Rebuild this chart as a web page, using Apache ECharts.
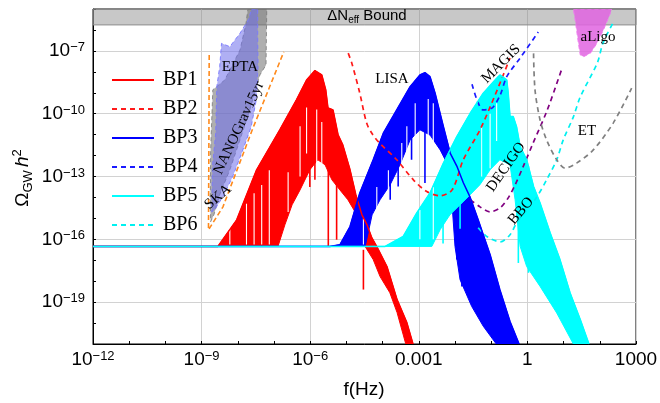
<!DOCTYPE html>
<html><head><meta charset="utf-8">
<script src="https://cdn.jsdelivr.net/npm/echarts@6/dist/echarts.min.js"></script>
<style>html,body{margin:0;padding:0;background:#fff}#c{width:660px;height:403px}</style>
</head><body><div id="c"></div>
<script>
// All values are given as [log10(f / Hz), log10(Omega_GW h^2)]
const xTickValues = [-12, -9, -6, -3, 0, 3];
const xTickTexts = ['10^−12', '10^−9', '10^−6', '0.001', '1', '1000'];
const yTickValues = [-19, -16, -13, -10, -7];
const yTickTexts = ['10^−19', '10^−16', '10^−13', '10^−10', '10^−7'];
const legendNames = ['BP1', 'BP2', 'BP3', 'BP4', 'BP5', 'BP6'];

// Spectra: upper envelope and lower envelope of the densely oscillating curves
const bp1Upper = [[-12,-16.34],[-8.55,-16.34],[-8.03,-15.07],[-7.48,-12.68],[-6.84,-10.77],[-6.38,-9.34],[-6.10,-8.39],[-5.87,-7.94],[-5.68,-8.15],[-5.57,-8.87],[-5.51,-9.72],[-5.37,-9.82],[-5.23,-11.01],[-5.10,-11.49],[-4.90,-12.68],[-4.74,-13.87],[-4.57,-14.83],[-4.43,-15.31],[-4.30,-15.92],[-4.16,-16.35],[-3.88,-17.30],[-3.60,-18.88],[-3.33,-19.98],[-3.16,-21]];
const bp1Lower = [[-12,-16.34],[-6.89,-16.34],[-6.70,-15.31],[-6.50,-14.35],[-6.28,-13.64],[-6.01,-12.68],[-5.79,-12.20],[-5.59,-12.44],[-5.40,-13.16],[-5.18,-13.64],[-4.96,-14.11],[-4.76,-14.69],[-4.57,-15.31],[-4.48,-16.35],[-4.26,-16.97],[-4.07,-17.78],[-3.80,-18.55],[-3.60,-19.50],[-3.36,-21]];
// deep dips (same colour) and white gaps inside the filled oscillation: [logf, top, bottom]
const bp1Dips = [[-6.93,-14.5,-16.34],[-6.01,-12.5,-13.5],[-5.87,-12.3,-13.16],[-5.50,-12.5,-16.34],[-5.27,-13.0,-16.02],[-4.53,-16.5,-18.4]];
const bp1Gaps = [[-8.22,-15.3,-16.25],[-7.76,-14.3,-16.25],[-7.55,-13.8,-16.25],[-7.34,-13.4,-16.25],[-7.13,-12.7,-16.25],[-6.61,-12.8,-14.7],[-6.28,-10.6,-13.0],[-6.10,-9.7,-11.9],[-5.82,-9.8,-13.3],[-5.68,-10.4,-13.4]];

const bp3Upper = [[-12,-16.34],[-5.46,-16.34],[-5.18,-16.26],[-4.90,-15.39],[-4.63,-13.79],[-4.26,-12.20],[-3.98,-10.93],[-3.61,-9.82],[-3.24,-8.71],[-2.97,-8.15],[-2.83,-8.04],[-2.69,-8.23],[-2.55,-9.02],[-2.32,-10.62],[-2.13,-11.9],[-1.95,-12.5],[-1.77,-13.3],[-1.58,-14.0],[-1.36,-15.07],[-1.03,-16.74],[-0.76,-18.41],[-0.48,-19.93],[-0.23,-21]];
const bp3Lower = [[-12,-16.34],[-4.48,-16.34],[-4.29,-14.83],[-4.07,-14.11],[-3.79,-13.39],[-3.52,-12.44],[-3.24,-11.25],[-2.97,-10.77],[-2.69,-11.02],[-2.41,-11.73],[-2.13,-12.68],[-2.09,-14.11],[-2.00,-16.34],[-1.86,-17.93],[-1.54,-19.20],[-1.22,-20.15],[-0.86,-21]];
const bp3Dips = [[-3.79,-11,-14.11],[-3.57,-10,-13.48],[-3.20,-9,-12.20],[-2.83,-8.5,-13.31],[-1.95,-13,-16.97],[-1.81,-14,-18.25],[-1.31,-16,-19.20]];
const bp3Gaps = [[-4.53,-15.0,-16.25],[-4.16,-13.5,-14.9],[-3.84,-12.7,-14.2],[-3.47,-11.4,-13.1],[-3.33,-10.6,-13.4],[-3.10,-9.5,-12.2],[-2.74,-9.3,-11.2],[-2.60,-9.5,-11.4]];

const bp5Upper = [[-12,-16.34],[-3.93,-16.34],[-3.43,-15.86],[-3.06,-14.75],[-2.69,-13.79],[-2.32,-12.36],[-1.95,-11.09],[-1.58,-9.98],[-1.22,-9.02],[-0.85,-8.31],[-0.76,-8.15],[-0.57,-8.39],[-0.53,-9.02],[-0.48,-10.14],[-0.39,-10.14],[-0.30,-10.62],[-0.20,-11.57],[-0.02,-12.20],[0.17,-13.48],[0.35,-14.27],[0.63,-15.70],[0.90,-16.97],[1.18,-18.56],[1.46,-19.83],[1.70,-21]];
const bp5Lower = [[-12,-16.34],[-2.64,-16.34],[-2.41,-15.54],[-2.14,-14.83],[-1.86,-14.35],[-1.58,-13.87],[-1.31,-13.39],[-1.03,-12.68],[-0.76,-12.20],[-0.48,-12.44],[-0.34,-14.11],[-0.20,-16.34],[-0.02,-17.30],[0.35,-18.25],[0.81,-19.52],[1.27,-21]];
const bp5Dips = [[-2.33,-13,-16.2],[-1.86,-11.5,-15.5],[-1.22,-9.5,-13.0],[-0.53,-10,-12.36],[-0.25,-12,-17.13],[0.03,-12.5,-17.6]];
const bp5Gaps = [[-2.97,-14.6,-16.0],[-2.60,-13.5,-16.0],[-1.26,-10.6,-13.0],[-1.03,-10.0,-12.6],[-0.85,-9.5,-11.3]];

// Detector sensitivity curves
const lisaCurve = [[-4.95,-7.11],[-4.85,-7.59],[-4.63,-9.02],[-4.44,-10.45],[-4.27,-11.01],[-4.08,-11.41],[-3.61,-12.20],[-3.15,-13.16],[-2.78,-13.72],[-2.42,-13.92],[-2.08,-13.64],[-1.77,-12.20],[-1.31,-10.77],[-0.89,-9.10],[-0.48,-7.34]];
const magisCurve = [[-1.53,-8.59],[-1.39,-9.35],[-1.22,-9.82],[-0.97,-9.72],[-0.75,-9.10],[-0.57,-8.23],[-0.20,-7.34],[0.30,-6.10]];
const bboCurve = [[-1.36,-15.45],[-1.11,-15.88],[-0.75,-16.12],[-0.48,-15.78],[-0.28,-15.16],[-0.01,-14.59],[0.27,-13.95],[0.53,-13.16],[0.81,-12.20],[0.99,-11.25],[1.27,-10.15],[1.46,-9.20],[1.93,-7.58],[2.09,-6.62],[2.38,-5.62]];
const decigoCurve = [[-1.58,-14.11],[-1.31,-14.45],[-1.03,-14.69],[-0.75,-14.49],[-0.53,-14.02],[-0.34,-13.40],[-0.12,-12.54],[0.16,-11.39],[0.55,-9.82],[0.96,-7.81]];
const etCurve = [[0.17,-7.12],[0.21,-8.86],[0.35,-10.30],[0.53,-11.25],[0.81,-12.20],[1.04,-12.60],[1.36,-12.36],[1.82,-11.73],[2.37,-10.45],[2.88,-8.78]];
const skaCurve = [[-8.79,-7.2],[-8.80,-12.0],[-8.81,-15.55],[-8.76,-15.5],[-8.41,-14.45],[-7.58,-10.68],[-6.73,-7.05]];

// PTA / aLIGO regions
const eptaRegion = [[-7.72,-5.0],[-7.20,-5.0],[-7.22,-7.67],[-7.39,-8.15],[-7.67,-9.82],[-7.94,-11.25],[-8.22,-12.68],[-8.50,-13.87],[-8.66,-14.83],[-8.75,-15.16],[-8.76,-14.11],[-8.75,-11.73],[-8.69,-8.86],[-8.36,-8.39],[-7.94,-6.96],[-7.78,-5.76]];
const nanogravRegion = [[-7.62,-5.0],[-7.45,-5.0],[-7.45,-6.48],[-7.44,-7.75],[-7.49,-9.34],[-7.63,-10.62],[-7.86,-11.73],[-8.14,-13.0],[-8.41,-13.96],[-8.64,-14.59],[-8.72,-14.69],[-8.70,-12.52],[-8.61,-10.92],[-8.58,-8.71],[-8.50,-7.75],[-8.45,-6.64],[-8.22,-6.80],[-7.94,-6.16],[-7.71,-5.52]];
const aligoRegion = [[1.27,-5],[2.33,-5],[2.29,-5.21],[2.10,-6.0],[1.92,-6.64],[1.74,-7.11],[1.55,-7.28],[1.46,-7.19],[1.41,-6.64],[1.32,-5.52]];
const neffBound = [-5.76, -5];

const SANS = 'Liberation Sans, Arial, sans-serif';
const SERIF = 'Liberation Serif, Times New Roman, serif';

function powLabel(t) {
  const parts = t.split('^');
  return parts.length > 1 ? '{b|' + parts[0] + '}{s|' + parts[1] + '}' : '{b|' + t + '}';
}
function tickFormatter(values, texts) {
  return function (v) {
    const r = Math.round(v);
    if (Math.abs(v - r) > 1e-6) return '';
    const i = values.indexOf(r);
    return i < 0 ? '' : powLabel(texts[i]);
  };
}
const tickRich = {
  b: { fontSize: 19, fontFamily: SANS, color: '#000', lineHeight: 20 },
  s: { fontSize: 13, fontFamily: SANS, color: '#000', lineHeight: 15, verticalAlign: 'top' }
};

function polygonSeries(name, pts, fill, stroke, dash, lw) {
  return {
    type: 'custom', name: name, silent: true, animation: false,
    data: pts, encode: { x: 0, y: 1 },
    renderItem: function (params, api) {
      if (params.dataIndex !== 0) return null;
      const cs = params.coordSys;
      const points = pts.map(function (p) { return api.coord(p); });
      return {
        type: 'group',
        clipPath: { type: 'rect', shape: { x: cs.x, y: cs.y, width: cs.width, height: cs.height } },
        children: [{ type: 'polygon', shape: { points: points },
          style: { fill: fill, stroke: stroke, lineWidth: lw || 1, lineDash: dash || null } }]
      };
    }
  };
}
function segmentSeries(name, segs, color, width) {
  return {
    type: 'custom', name: name, silent: true, animation: false,
    data: segs, encode: { x: 0, y: [1, 2] },
    renderItem: function (params, api) {
      const a = api.coord([api.value(0), api.value(1)]);
      const b = api.coord([api.value(0), api.value(2)]);
      return { type: 'line', shape: { x1: a[0], y1: a[1], x2: b[0], y2: b[1] },
        style: { stroke: color, lineWidth: width } };
    }
  };
}
function lineSeries(name, pts, color, dash, width, smooth) {
  return {
    type: 'line', name: name, data: pts, symbol: 'none', showSymbol: false,
    animation: false, silent: true, smooth: smooth || false, clip: true,
    lineStyle: { color: color, width: width, type: dash || 'solid' },
    itemStyle: { color: color }
  };
}
function band(upper, lower) { return upper.concat(lower.slice().reverse()); }

const series = [
  Object.assign(polygonSeries('EPTA', eptaRegion, 'rgba(110,110,110,0.55)', 'rgba(120,120,120,0.8)', [4, 3], 1), {
    markArea: { silent: true, itemStyle: { color: 'rgba(140,140,140,0.48)', borderColor: '#8c8c8c', borderWidth: 1 },
      data: [[{ yAxis: neffBound[0] }, { yAxis: neffBound[1] }]] }
  }),
  polygonSeries('NANOGrav15yr', nanogravRegion, 'rgba(110,110,235,0.55)', 'rgba(120,120,255,0.9)', [4, 3], 1),
  lineSeries('SKA', skaCurve, '#ff8a1c', [5, 3], 1.6),
  polygonSeries('aLigo', aligoRegion, 'rgba(225,100,225,0.85)', 'rgba(240,120,240,1)', [4, 3], 1),
  lineSeries('BP2', lisaCurve, '#ff1a1a', [5, 4], 1.7, 0.3),
  lineSeries('BP4', magisCurve, '#1a1aff', [5, 4], 1.7, 0.3),
  lineSeries('DECIGO', decigoCurve, '#800080', [5, 4], 1.7, 0.3),
  lineSeries('BP6', bboCurve, '#00f0f0', [5, 4], 1.7, 0.3),
  lineSeries('ET', etCurve, '#808080', [5, 4], 1.7, 0.3),
  polygonSeries('BP1 band', band(bp1Upper, bp1Lower), '#ff0000', '#ff0000', null, 1),
  segmentSeries('BP1 gaps', bp1Gaps, '#ffffff', 1.1),
  segmentSeries('BP1 dips', bp1Dips, '#ff0000', 1.6),
  lineSeries('BP1', bp1Upper, '#ff0000', 'solid', 1.5),
  polygonSeries('BP3 band', band(bp3Upper, bp3Lower), '#0000ff', '#0000ff', null, 1),
  segmentSeries('BP3 gaps', bp3Gaps, '#ffffff', 1.1),
  segmentSeries('BP3 dips', bp3Dips, '#0000ff', 1.6),
  lineSeries('BP3', bp3Upper, '#0000ff', 'solid', 1.5),
  polygonSeries('BP5 band', band(bp5Upper, bp5Lower), '#00ffff', '#00ffff', null, 1),
  segmentSeries('BP5 gaps', bp5Gaps, '#ffffff', 1.1),
  segmentSeries('BP5 dips', bp5Dips, '#00ffff', 1.6),
  lineSeries('BP5', bp5Upper, '#00ffff', 'solid', 1.5)
];

function txt(x, y, text, size, rot) {
  return { type: 'text', x: x, y: y, z: 100, rotation: (rot || 0) * Math.PI / 180,
    style: { text: text, fontFamily: SERIF, fontSize: size, fill: '#000', align: 'center', verticalAlign: 'middle' } };
}

const option = {
  backgroundColor: '#fff',
  animation: false,
  grid: { left: 93, right: 24, top: 9, bottom: 59, show: true, borderColor: '#000', borderWidth: 1,
    backgroundColor: 'transparent', outerBoundsMode: 'none', containLabel: false },
  legend: {
    data: legendNames, orient: 'vertical', left: 106, top: 65, itemWidth: 42, itemHeight: 14, itemGap: 9,
    selectedMode: false, backgroundColor: 'transparent',
    itemStyle: { opacity: 0, color: 'rgba(0,0,0,0)', borderWidth: 0 },
    textStyle: { fontFamily: SERIF, fontSize: 20, color: '#000', padding: [0, 0, 0, 4] }
  },
  xAxis: {
    type: 'value', min: -12, max: 3, interval: 1,
    axisLine: { show: true, onZero: false, lineStyle: { color: '#000', width: 1 } },
    axisTick: { show: true, inside: true, length: 3, lineStyle: { color: '#000' } },
    axisLabel: { margin: 6, formatter: tickFormatter(xTickValues, xTickTexts), rich: tickRich, hideOverlap: false },
    splitLine: { show: true, lineStyle: { color: ['#d2d2d2', 'rgba(0,0,0,0)', 'rgba(0,0,0,0)'], width: 1 } }
  },
  yAxis: {
    type: 'value', min: -21, max: -5, interval: 1,
    axisLine: { show: true, onZero: false, lineStyle: { color: '#000', width: 1 } },
    axisTick: { show: true, inside: true, length: 3, lineStyle: { color: '#000' } },
    axisLabel: { margin: 8, formatter: tickFormatter(yTickValues, yTickTexts), rich: tickRich, hideOverlap: false },
    splitLine: { show: true, lineStyle: { color: ['rgba(0,0,0,0)', 'rgba(0,0,0,0)', '#d2d2d2'], width: 1 } }
  },
  graphic: [
    { type: 'text', x: 367, y: 16, z: 100, style: { text: '{a|ΔN}{e|eff}{a| Bound}', align: 'center', verticalAlign: 'middle',
      rich: { a: { fontFamily: SANS, fontSize: 15, lineHeight: 18, color: '#000' },
              e: { fontFamily: SANS, fontSize: 10, lineHeight: 10, verticalAlign: 'bottom', color: '#000' } } } },
    txt(240, 67, 'EPTA', 15),
    txt(239, 128, 'NANOGrav15yr', 15, 65),
    txt(218, 197, 'SKA', 15, 40),
    txt(392, 79, 'LISA', 15),
    txt(501, 64, 'MAGIS', 15, 45),
    txt(506, 167, 'DECIGO', 15, 55),
    txt(521, 211, 'BBO', 15, 50),
    txt(587, 131, 'ET', 15),
    txt(598, 37, 'aLigo', 15),
    { type: 'text', x: 364, y: 390, z: 100, style: { text: 'f(Hz)', fontFamily: SANS, fontSize: 19, fill: '#000', align: 'center', verticalAlign: 'middle' } },
    { type: 'text', x: 23, y: 178, z: 100, rotation: Math.PI / 2, style: {
      text: '{o|Ω}{g|GW}{h|h}{p|2}', align: 'center', verticalAlign: 'middle',
      rich: { o: { fontFamily: SANS, fontSize: 19, lineHeight: 24, color: '#000' },
              g: { fontFamily: SANS, fontSize: 13, lineHeight: 12, verticalAlign: 'bottom', color: '#000' },
              h: { fontFamily: SANS, fontSize: 19, fontStyle: 'italic', lineHeight: 24, color: '#000', padding: [0, 0, 0, 3] },
              p: { fontFamily: SANS, fontSize: 13, lineHeight: 13, verticalAlign: 'top', color: '#000' } } } }
  ],
  series: series
};
const chart = echarts.init(document.getElementById('c'), null, { renderer: 'canvas', width: 660, height: 403 });
chart.setOption(option);
</script>
</body></html>
